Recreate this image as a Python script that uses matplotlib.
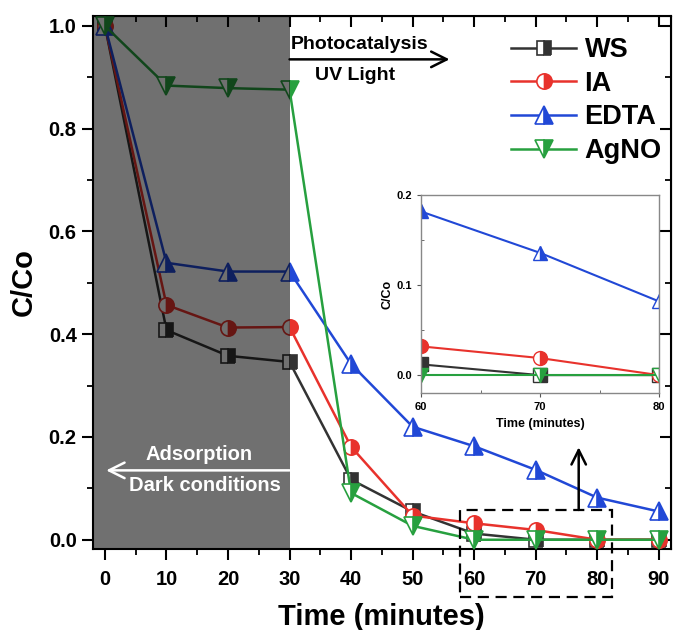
import numpy as np
import matplotlib
matplotlib.use("Agg")
from matplotlib import pyplot as plt
from matplotlib.patches import Rectangle
from matplotlib.ticker import MultipleLocator, FormatStrFormatter

plt.rcParams['font.family'] = ['Liberation Sans', 'DejaVu Sans']
plt.rcParams['font.weight'] = 'bold'

# data
time_min = [0, 10, 20, 30, 40, 50, 60, 70, 80, 90]
ws = [1.0, 0.408, 0.358, 0.346, 0.117, 0.055, 0.012, 0.0, 0.0, 0.0]
ia = [1.0, 0.457, 0.413, 0.414, 0.181, 0.047, 0.032, 0.019, 0.0, 0.0]
edta = [1.0, 0.539, 0.522, 0.522, 0.342, 0.220, 0.182, 0.136, 0.082, 0.055]
agno = [1.0, 0.884, 0.879, 0.876, 0.091, 0.027, 0.0, 0.0, 0.0, 0.0]

names = ['WS', 'IA', 'EDTA', 'AgNO']
series = [ws, ia, edta, agno]
colors = ['#333333', '#e8322c', '#2148d6', '#27a03f']
markers = ['s', 'o', '^', 'v']
msizes = [10, 11, 12.5, 12.5]

fig = plt.figure(figsize=(6.73, 6.30), dpi=100)
ax = fig.add_axes([0.1377, 0.1286, 0.8593, 0.8465])

for name, vals, c, m, ms in zip(names, series, colors, markers, msizes):
    ax.plot(time_min, vals, color=c, lw=1.8, marker=m, ms=ms,
            fillstyle='right', markerfacecolor=c, markerfacecoloralt='white',
            markeredgecolor=c, markeredgewidth=1.2, label=name, zorder=3,
            clip_on=False)

# dark region overlay
ax.axvspan(-2, 30, facecolor='black', alpha=0.56, lw=0, zorder=5)

ax.set_xlim(-2, 92)
ax.set_ylim(-0.018, 1.02)
ax.set_xticks(np.arange(0, 91, 10))
ax.set_yticks(np.arange(0, 1.01, 0.2))
ax.yaxis.set_major_formatter(FormatStrFormatter('%.1f'))
ax.xaxis.set_minor_locator(MultipleLocator(5))
ax.yaxis.set_minor_locator(MultipleLocator(0.1))
ax.tick_params(axis='both', which='major', length=8, width=1.5, labelsize=14.5)
ax.tick_params(axis='both', which='minor', length=4, width=1.3)
ax.tick_params(axis='x', which='major', pad=7)
for t in ax.get_xticklabels() + ax.get_yticklabels():
    t.set_fontweight('bold')
for sp in ax.spines.values():
    sp.set_linewidth(1.5)

# inward ticks on top and right
top = ax.secondary_xaxis('top')
top.set_xticks(np.arange(0, 91, 10))
top.xaxis.set_minor_locator(MultipleLocator(5))
top.tick_params(which='major', direction='in', length=8, width=1.5, labeltop=False)
top.tick_params(which='minor', direction='in', length=4, width=1.3)
right = ax.secondary_yaxis('right')
right.set_yticks(np.arange(0, 1.01, 0.2))
right.yaxis.set_minor_locator(MultipleLocator(0.1))
right.tick_params(which='major', direction='in', length=8, width=1.5, labelright=False)
right.tick_params(which='minor', direction='in', length=4, width=1.3)

ax.set_xlabel('Time (minutes)', fontsize=21, fontweight='bold', labelpad=10)
ax.set_ylabel('C/Co', fontsize=21, fontweight='bold', labelpad=8)

leg = ax.legend(loc='upper right', bbox_to_anchor=(1.012, 0.99), frameon=False,
                fontsize=19.5, handlelength=2.4, handletextpad=0.3,
                labelspacing=0.28, borderaxespad=0.2)
for t in leg.get_texts():
    t.set_fontweight('bold')

# photocatalysis arrow and text
ax.annotate('', xy=(56, 0.935), xytext=(30, 0.935), zorder=6,
            arrowprops=dict(arrowstyle='->', color='black', lw=1.8,
                            mutation_scale=28, shrinkA=0, shrinkB=0))
ax.text(41.3, 0.963, 'Photocatalysis', ha='center', va='center',
        fontsize=14, fontweight='bold', zorder=6)
ax.text(40.7, 0.903, 'UV Light', ha='center', va='center',
        fontsize=14, fontweight='bold', zorder=6)

# adsorption arrow and text
ax.annotate('', xy=(0.2, 0.135), xytext=(30, 0.135), zorder=6,
            arrowprops=dict(arrowstyle='->', color='white', lw=1.8,
                            mutation_scale=28, shrinkA=0, shrinkB=0))
ax.text(15.3, 0.165, 'Adsorption', ha='center', va='center', color='white',
        fontsize=14.5, fontweight='bold', zorder=6)
ax.text(16.2, 0.105, 'Dark conditions', ha='center', va='center',
        color='white', fontsize=14.5, fontweight='bold', zorder=6)

# dashed zoom box and arrow
ax.add_patch(Rectangle((57.7, -0.111), 82.4 - 57.7, 0.058 + 0.111,
                       fill=False, ls=(0, (5, 3)), lw=1.6, color='black',
                       clip_on=False, zorder=6))
ax.annotate('', xy=(77, 0.18), xytext=(77, 0.058), zorder=6,
            arrowprops=dict(arrowstyle='->', color='black', lw=1.8,
                            mutation_scale=26, shrinkA=0, shrinkB=0))

# inset
ins = fig.add_axes([0.6256, 0.376, 0.3536, 0.314])
for name, vals, c, m in zip(names, series, colors, markers):
    ins.plot(time_min[6:9], vals[6:9], color=c, lw=1.5, marker=m, ms=10,
             fillstyle='right', markerfacecolor=c, markerfacecoloralt='white',
             markeredgecolor=c, markeredgewidth=1.0)
ins.set_xlim(60, 80)
ins.set_ylim(-0.02, 0.2)
ins.set_xticks([60, 70, 80])
ins.set_yticks([0.0, 0.1, 0.2])
ins.yaxis.set_major_formatter(FormatStrFormatter('%.1f'))
ins.xaxis.set_minor_locator(MultipleLocator(5))
ins.yaxis.set_minor_locator(MultipleLocator(0.05))
ins.tick_params(axis='both', which='major', length=3, width=0.8,
                labelsize=8, colors='#555555', labelcolor='black')
ins.tick_params(axis='both', which='minor', length=2, width=0.6,
                direction='in', colors='#555555')
for t in ins.get_xticklabels() + ins.get_yticklabels():
    t.set_fontweight('bold')
for sp in ins.spines.values():
    sp.set_color('#888888')
    sp.set_linewidth(1.0)
ins.set_xlabel('Time (minutes)', fontsize=9, fontweight='bold', labelpad=4)
ins.set_ylabel('C/Co', fontsize=9, fontweight='bold', labelpad=2)

fig.savefig('out.png', dpi=100)
